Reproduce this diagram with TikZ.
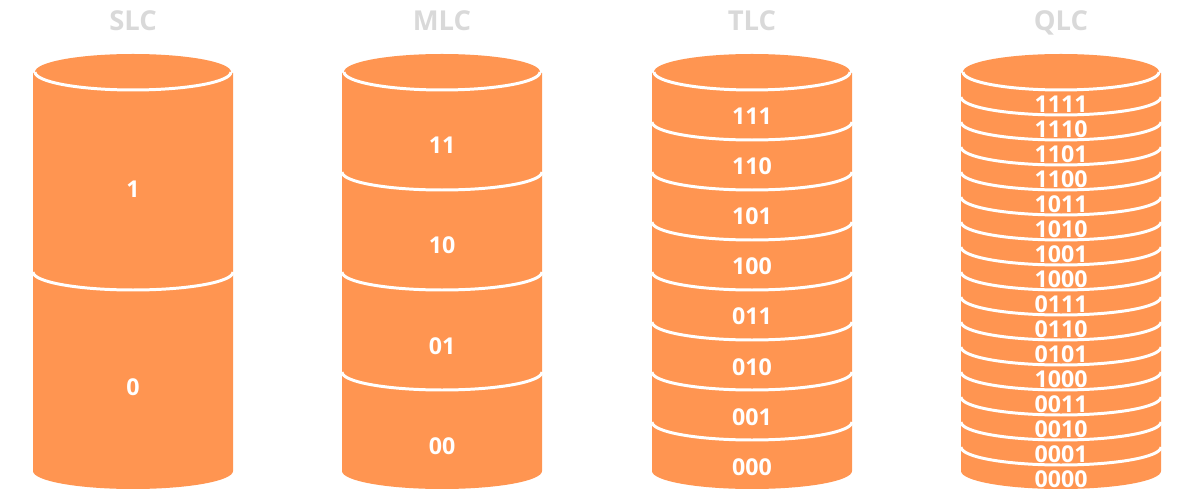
\documentclass[tikz,border=0pt]{standalone}
\usepackage{fontspec}
\setmainfont{Open Sans}
\definecolor{cellorange}{HTML}{FF9551}
\definecolor{titlegray}{HTML}{D9D9D9}
\tikzset{
  celltitle/.style={text=titlegray,font=\bfseries\fontsize{15.6}{18}\selectfont,inner sep=0pt,anchor=base},
  bitlabel/.style={text=white,font=\bfseries\fontsize{13.2}{15}\selectfont,inner sep=0pt},
  sepline/.style={draw=white,line width=1.7pt},
}
% one orange cylinder, #1 is the x of its centre
\newcommand{\cellbody}[1]{
  \fill[cellorange] (#1-100,73) -- (#1-100,471) arc[start angle=180,end angle=0,x radius=100,y radius=18] -- (#1+100,73) -- cycle;
  \fill[white] (#1-100,54) rectangle (#1+100,72);
  \fill[cellorange] (#1,72) ellipse[x radius=98,y radius=18];
  \draw[sepline] (#1-98,72) arc[start angle=180,end angle=0,x radius=98,y radius=18];
}
% white line across the cylinder at x #1, the edge of the line at y #2
\newcommand{\celldivide}[2]{
  \draw[sepline] (#1-100,#2) arc[start angle=180,end angle=0,x radius=100,y radius=18];
}
\begin{document}
\begin{tikzpicture}[x=0.02cm,y=-0.02cm]
\useasboundingbox (0,0) rectangle (1200,499);

% SLC
\cellbody{133}
\celldivide{133}{272}
\node[celltitle] (slc) at (133,30.5) {SLC};
\node[bitlabel] (slc1) at (133,189) {1};
\node[bitlabel] (slc0) at (133,387) {0};

% MLC
\cellbody{442}
\foreach \yy in {172,272,372} {\celldivide{442}{\yy}}
\node[celltitle] (mlc) at (442,30.5) {MLC};
\foreach \bits/\yy in {11/145,10/245,01/346,00/446}
  \node[bitlabel] (mlc\bits) at (442,\yy) {\bits};

% TLC
\cellbody{752}
\foreach \yy in {122,172,222,272,322,372,422} {\celldivide{752}{\yy}}
\node[celltitle] (tlc) at (752,30.5) {TLC};
\foreach \bits/\yy in {111/116,110/166,101/216,100/266,011/316,010/367,001/417,000/467}
  \node[bitlabel] (tlc\bits) at (752,\yy) {\bits};

% QLC
\cellbody{1061}
\foreach \yy in {97,122,147,172,197,222,247,272,297,322,347,372,397,422,447} {\celldivide{1061}{\yy}}
\node[celltitle] (qlc) at (1061,30.5) {QLC};
\foreach \bits/\yy/\tagname in {1111/104/a,1110/129/b,1101/154/c,1100/179/d,1011/204/e,1010/229/f,1001/254/g,1000/279/h,0111/304/i,0110/329/j,0101/354/k,1000/379/l,0011/404/m,0010/429/n,0001/454/o,0000/479/p}
  \node[bitlabel] (qlc\tagname) at (1061,\yy) {\bits};
\end{tikzpicture}
\end{document}
